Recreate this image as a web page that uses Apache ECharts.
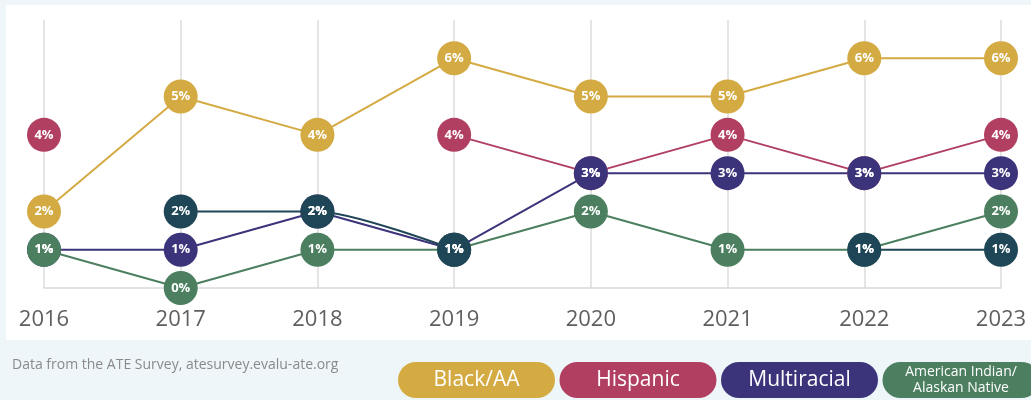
<!DOCTYPE html>
<html>
<head>
<meta charset="utf-8">
<script src="https://cdn.jsdelivr.net/npm/echarts@6/dist/echarts.min.js"></script>
<style>
    html, body { margin: 0; padding: 0; background: #eef6f9; }
    #main { width: 1031px; height: 400px; }
</style>
</head>
<body>
<div id="main"></div>
<script>
// years along the bottom
var years = ['2016', '2017', '2018', '2019', '2020', '2021', '2022', '2023'];

// percent per year, null = no point that year
var black_aa = [2, 5, 4, 6, 5, 5, 6, 6];
var hispanic = [4, null, null, 4, 3, 4, 3, 4];
var multiracial = [1, 1, 2, 1, 3, 3, 3, 3];
var am_indian = [1, 0, 1, 1, 2, 1, 1, 2];
var unlabeled = [null, 2, 2, 1, null, null, 1, 1];

var legend_names = ['Black/AA', 'Hispanic', 'Multiracial', 'American Indian/\nAlaskan Native'];
var colors = ['#d4aa42', '#b13f61', '#3b347b', '#4b7f5f', '#1f4657'];

var CHART = {
    font: '"Open Sans", "Noto Sans", sans-serif',
    init: function(){
        var _this = this;
        var myChart = echarts.init(document.getElementById('main'));
        var all_data = [black_aa, hispanic, multiracial, am_indian, unlabeled];
        var series = [];
        $each(all_data, function(i, data){
            series.push(_this.make_series(legend_names[i] || 'Other', data, colors[i], i === 4));
        });

        var option = {
            backgroundColor: '#eef6f9',
            animation: false,
            grid: { left: 44, right: 30, top: 20, bottom: 112 },
            xAxis: {
                type: 'category',
                boundaryGap: false,
                data: years,
                axisLine: { lineStyle: { color: '#d9d9d9', width: 1.5 } },
                axisTick: { show: false },
                splitLine: { show: true, lineStyle: { color: '#dcdcdc', width: 1.5 } },
                axisLabel: { fontSize: 22, color: '#5f5f5f', margin: 21, fontFamily: _this.font }
            },
            yAxis: {
                type: 'value',
                min: 0,
                max: 7,
                show: false
            },
            graphic: _this.make_graphic(),
            series: series
        };
        myChart.setOption(option);
    },
    make_series: function(name, data, color, smooth){
        return {
            name: name,
            type: 'line',
            data: data,
            smooth: smooth ? 0.25 : false,
            symbol: 'circle',
            symbolSize: 34,
            itemStyle: { color: color },
            lineStyle: { color: color, width: 2 },
            label: {
                show: true,
                position: 'inside',
                formatter: '{c}%',
                color: '#fff',
                fontWeight: 'bold',
                fontSize: 13,
                fontFamily: this.font
            }
        };
    },
    make_graphic: function(){
        var _this = this;
        var items = [
            { type: 'rect', left: 6, top: 5, z: -10, shape: { width: 1025, height: 335 }, style: { fill: '#ffffff' } },
            { type: 'text', left: 12, top: 358, style: { text: 'Data from the ATE Survey, atesurvey.evalu-ate.org', fill: '#8a8a8a', font: '14px ' + _this.font } }
        ];
        $each(legend_names, function(i, name){
            var x = 398 + i * 161.5;
            var two_lines = name.indexOf('\n') >= 0;
            items.push({
                type: 'group',
                left: x,
                top: 362,
                children: [
                    { type: 'rect', shape: { x: 0, y: 0, width: 157, height: 36, r: 18 }, style: { fill: colors[i] } },
                    {
                        type: 'text',
                        x: 78.5,
                        y: 18,
                        style: {
                            text: name,
                            fill: '#fff',
                            align: 'center',
                            verticalAlign: 'middle',
                            lineHeight: two_lines ? 16 : 22,
                            font: (two_lines ? '14px ' : '21px ') + _this.font
                        }
                    }
                ]
            });
        });
        return items;
    }
};

function $each(arr, fn){
    for (var i = 0; i < arr.length; i++) fn(i, arr[i]);
}

CHART.init();
</script>
</body>
</html>
